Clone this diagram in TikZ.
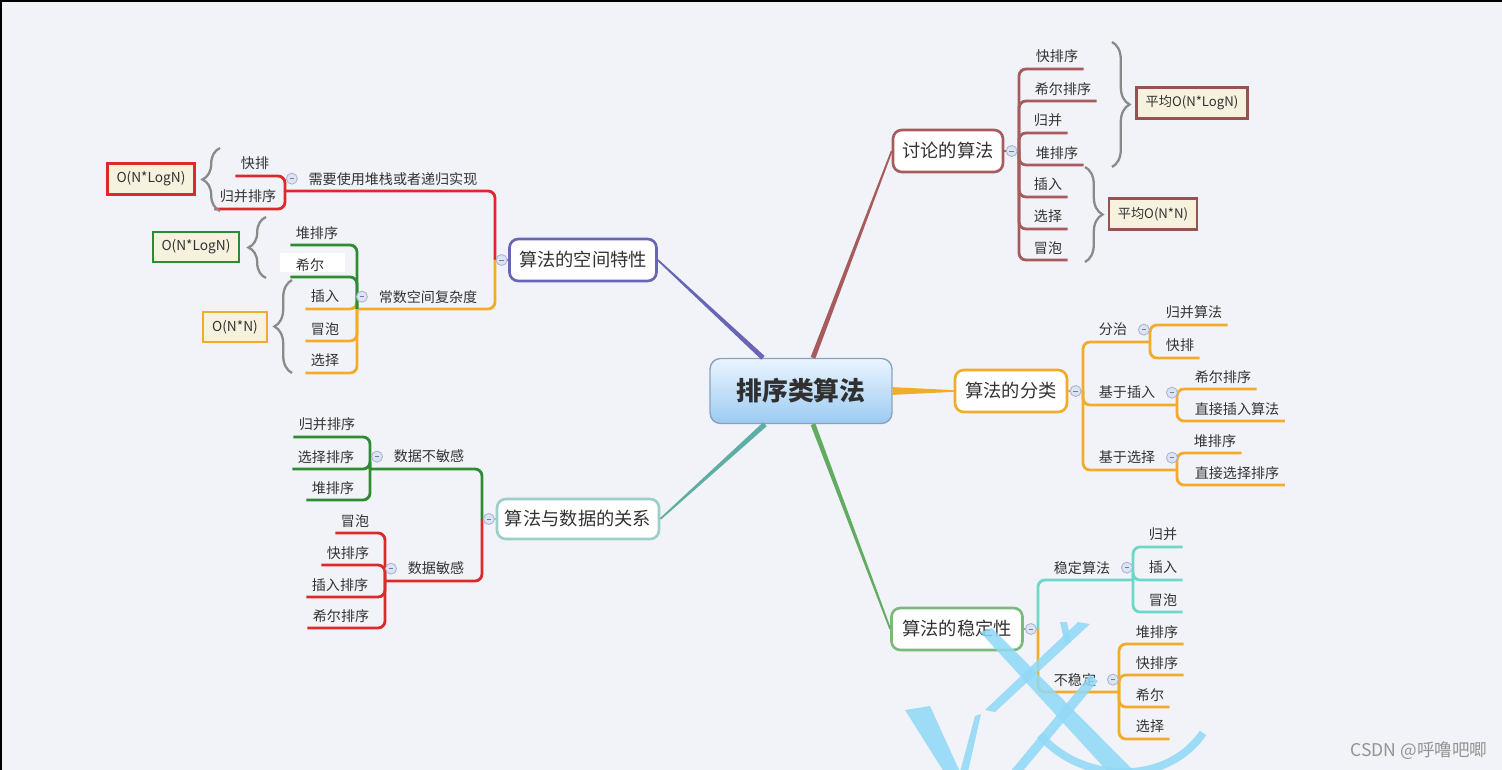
\documentclass[tikz,border=0pt]{standalone}
\usepackage{fontspec}
\setmainfont{Noto Sans CJK SC}
\usepackage{xcolor}
\usetikzlibrary{positioning,calc,decorations.pathreplacing}

\definecolor{bgcol}{HTML}{F2F3F8}
\definecolor{txt}{HTML}{333333}
\definecolor{purpl}{HTML}{6666B4}
\definecolor{rose}{HTML}{A65C5C}
\definecolor{orng}{HTML}{F2AC2C}
\definecolor{tealc}{HTML}{5EAEA6}
\definecolor{tealbox}{HTML}{9CCFCA}
\definecolor{aqua}{HTML}{6ED8C8}
\definecolor{grn}{HTML}{62AC62}
\definecolor{grnbox}{HTML}{7DB87D}
\definecolor{dgreen}{HTML}{2E8B34}
\definecolor{redl}{HTML}{DC2A2C}
\definecolor{beige}{HTML}{F6F2DD}
\definecolor{bracegray}{HTML}{8A8A8A}
\definecolor{foldfill}{HTML}{DCE3F3}
\definecolor{folddraw}{HTML}{A9B5D3}
\definecolor{rootTop}{HTML}{EAF5FF}
\definecolor{rootBot}{HTML}{9CCAF2}
\definecolor{rootEdge}{HTML}{8AA3BD}
\definecolor{wcol}{HTML}{8FD9F6}

\tikzset{
  root/.style={draw=rootEdge, top color=rootTop, bottom color=rootBot, rounded corners=6pt,
    line width=0.8pt, minimum width=3.64cm, minimum height=1.3cm,
    font=\fontsize{14.7}{17}\selectfont\bfseries, text=txt!95!black},
  topic/.style={draw, fill=white, rounded corners=5pt, line width=1.5pt, minimum height=0.84cm,
    font=\fontsize{10.4}{12}\selectfont},
  leaf/.style={anchor=south, minimum height=0.48cm, inner xsep=3pt, inner ysep=0pt,
    font=\fontsize{8}{9.6}\selectfont},
  cost/.style={draw, fill=beige, line width=1.5pt, minimum height=0.62cm, inner xsep=2pt,
    font=\fontsize{7.8}{9}\selectfont},
  fold/.style={circle, draw=folddraw, fill=foldfill, line width=0.5pt, minimum size=0.22cm, inner sep=0pt,
    path picture={\draw[folddraw!70!black, line width=0.5pt]
      ([xshift=-1.3pt]path picture bounding box.center) -- ([xshift=1.3pt]path picture bounding box.center);}},
  limb/.style={line width=1.6pt, rounded corners=4pt},
  brc/.style={decorate, decoration={brace, amplitude=10pt}, draw=bracegray, line width=1.3pt},
}

% tapered branch: thick at #1, thin at #2
\newcommand\taperline[4]{%
  \fill[#3] ($(#1)!#4!90:(#2)$) -- ($(#2)!0.5pt!-90:(#1)$)
    -- ($(#2)!0.5pt!90:(#1)$) -- ($(#1)!#4!-90:(#2)$) -- cycle;}

\begin{document}
\begin{tikzpicture}[x=0.02cm, y=-0.02cm, every node/.style={text=txt}]
\useasboundingbox (0,0) rectangle (1502,770);
\fill[bgcol] (0,0) rectangle (1502,770);
\draw[black, line width=1.1pt] (0,1) -- (1502,1) (1,0) -- (1,770);

% root and main topics
\node[root] (root) at (801,391) {排序类算法};
\node[topic, draw=purpl, minimum width=2.94cm] (space) at (583,260) {算法的空间特性};
\node[topic, draw=rose, minimum width=2.2cm] (talk) at (948,151) {讨论的算法};
\node[topic, draw=orng, minimum width=2.24cm] (kind) at (1011,391) {算法的分类};
\node[topic, draw=tealbox, minimum width=3.24cm, minimum height=0.8cm] (data) at (578,519) {算法与数据的关系};
\node[topic, draw=grnbox, minimum width=2.62cm] (stab) at (957,629) {算法的稳定性};

\coordinate (rP) at ($(root.north)+(-38,0)$);
\coordinate (rR) at ($(root.north)+(12,0)$);
\coordinate (rT) at ($(root.south)+(-36,0)$);
\coordinate (rG) at ($(root.south)+(12,0)$);
\taperline{rP}{space.east}{purpl}{1.4pt}
\taperline{rR}{talk.west}{rose}{1.4pt}
\taperline{root.east}{kind.west}{orng}{2.2pt}
\taperline{rT}{data.east}{tealc}{1.5pt}
\taperline{rG}{stab.west}{grn}{1.4pt}

% junctions
\coordinate (jSpace) at (495,260);
\coordinate (jTalk) at (1019,151);
\coordinate (jKind) at (1083,391);
\coordinate (jData) at (482,519);
\coordinate (jStab) at (1038,629);
\coordinate (jStack) at (285,191);
\coordinate (jConst) at (357,309);
\coordinate (jCalm) at (370,469);
\coordinate (jTouch) at (385,581);
\coordinate (jSplit) at (1150,342);
\coordinate (jIns) at (1177,405);
\coordinate (jSel) at (1177,470);
\coordinate (jStable) at (1133,580);
\coordinate (jShaky) at (1119,692);

\draw[limb, purpl] (space.west) -- (jSpace);
\draw[limb, rose] (talk.east) -- (jTalk);
\draw[limb, orng] (kind.east) -- (jKind);
\draw[limb, tealbox] (data.west) -- (jData);
\draw[limb, grnbox] (stab.east) -- (jStab);

% space: stack / constant
\draw[limb, redl] (jSpace) |- (jStack);
\draw[limb, orng] (jSpace) |- (jConst);
\node[leaf] (stack) at (393,191) {需要使用堆栈或者递归实现};
\node[leaf] (const) at (428,309) {常数空间复杂度};
\foreach \n/\x/\y/\t in {sk1/255/176/快排, sk2/248/209/归并排序} {
  \node[leaf] (\n) at (\x,\y) {\t};
  \draw[limb, redl] (jStack) |- (\n.south west);
}
\foreach \n/\x/\y/\t in {cs3/325/309/插入, cs4/325/341/冒泡, cs5/325/373/选择} {
  \node[leaf] (\n) at (\x,\y) {\t};
  \draw[limb, orng] (jConst) |- (\n.south west);
}
\fill[white] (280,253) rectangle (345,272);
\foreach \n/\x/\y/\t in {cs1/317/245/堆排序, cs2/310/277/希尔} {
  \node[leaf] (\n) at (\x,\y) {\t};
  \draw[limb, dgreen] (jConst) |- (\n.south west);
}

% data: calm / touchy
\draw[limb, dgreen] (jData) |- (jCalm);
\draw[limb, redl] (jData) |- (jTouch);
\node[leaf] (calm) at (429,469) {数据不敏感};
\node[leaf] (touch) at (436,581) {数据敏感};
\foreach \n/\x/\y/\t in {ca1/327/437/归并排序, ca2/326/469/选择排序, ca3/333/500/堆排序} {
  \node[leaf] (\n) at (\x,\y) {\t};
  \draw[limb, dgreen] (jCalm) |- (\n.south west);
}
\foreach \n/\x/\y/\t in {to1/355/533/冒泡, to2/348/565/快排序, to3/340/597/插入排序, to4/341/628/希尔排序} {
  \node[leaf] (\n) at (\x,\y) {\t};
  \draw[limb, redl] (jTouch) |- (\n.south west);
}

% talk
\foreach \n/\x/\y/\t in {tk1/1057/69/快排序, tk2/1063/101/希尔排序, tk3/1048/133/归并, tk4/1057/165/堆排序,
    tk5/1048/197/插入, tk6/1048/229/选择, tk7/1048/260/冒泡} {
  \node[leaf] (\n) at (\x,\y) {\t};
  \draw[limb, rose] (jTalk) |- (\n.south east);
}

% kind
\draw[limb, orng] (jKind) |- (jSplit);
\draw[limb, orng] (jKind) |- (jIns);
\draw[limb, orng] (jKind) |- (jSel);
\node[leaf] (split) at (1113,342) {分治};
\node[leaf] (ins) at (1127,405) {基于插入};
\node[leaf] (sel) at (1127,470) {基于选择};
\foreach \j/\n/\x/\y/\t in {jSplit/sp1/1194/325/归并算法, jSplit/sp2/1180/358/快排,
    jIns/in1/1223/389/希尔排序, jIns/in2/1237/421/直接插入算法,
    jSel/se1/1215/453/堆排序, jSel/se2/1237/485/直接选择排序} {
  \node[leaf] (\n) at (\x,\y) {\t};
  \draw[limb, orng] (\j) |- (\n.south east);
}

% stability
\draw[limb, aqua] (jStab) |- (jStable);
\draw[limb, orng] (jStab) |- (jShaky);
\node[leaf] (stable) at (1082,580) {稳定算法};
\node[leaf] (shaky) at (1075,692) {不稳定};
\foreach \n/\x/\y/\t in {st1/1163/547/归并, st2/1163/580/插入, st3/1163/612/冒泡} {
  \node[leaf] (\n) at (\x,\y) {\t};
  \draw[limb, aqua] (jStable) |- (\n.south east);
}
\foreach \n/\x/\y/\t in {sh1/1157/644/堆排序, sh2/1157/675/快排序, sh3/1150/707/希尔, sh4/1150/739/选择} {
  \node[leaf] (\n) at (\x,\y) {\t};
  \draw[limb, orng] (jShaky) |- (\n.south east);
}

% fold marks
\node[fold] (fSpace) at ($(space.west)!0.5!(jSpace)$) {};
\node[fold] (fTalk) at ($(talk.east)!0.5!(jTalk)$) {};
\node[fold] (fKind) at ($(kind.east)!0.5!(jKind)$) {};
\node[fold] (fData) at ($(data.west)!0.5!(jData)$) {};
\node[fold] (fStab) at ($(stab.east)!0.5!(jStab)$) {};
\node[fold, left=3pt of stack] (fStack) {};
\node[fold, left=3pt of const] (fConst) {};
\node[fold, left=3pt of calm] (fCalm) {};
\node[fold, left=3pt of touch] (fTouch) {};
\node[fold, right=3pt of split] (fSplit) {};
\node[fold, right=3pt of ins] (fIns) {};
\node[fold, right=3pt of sel] (fSel) {};
\node[fold, right=3pt of stable] (fStable) {};
\node[fold, right=3pt of shaky] (fShaky) {};

% complexity notes with braces
\node[cost, draw=redl, minimum width=1.74cm] (cRed) at (151,179) {O(N*LogN)};
\node[cost, draw=dgreen, minimum width=1.72cm, minimum height=0.6cm] (cGreen) at (196,247) {O(N*LogN)};
\node[cost, draw=orng, minimum width=1.28cm, minimum height=0.6cm] (cOrange) at (235,327) {O(N*N)};
\node[cost, draw=rose!90!black, minimum width=2.22cm, font=\fontsize{7.5}{9}\selectfont] (cFast) at (1192,103) {平均O(N*LogN)};
\node[cost, draw=rose!90!black, minimum width=1.76cm, font=\fontsize{7.5}{9}\selectfont] (cSlow) at (1153,214) {平均O(N*N)};
\coordinate (bR1) at (220,211);  \coordinate (bR2) at (220,148);
\coordinate (bG1) at (266,278);  \coordinate (bG2) at (266,217);
\coordinate (bO1) at (292,373);  \coordinate (bO2) at (292,280);
\coordinate (bF1) at (1112,42);  \coordinate (bF2) at (1112,167);
\coordinate (bS1) at (1085,167); \coordinate (bS2) at (1085,262);
\draw[brc] (bR1) -- (bR2);
\draw[brc] (bG1) -- (bG2);
\draw[brc] (bO1) -- (bO2);
\draw[brc] (bF1) -- (bF2);
\draw[brc] (bS1) -- (bS2);

% watermark strokes
\begin{scope}[fill=wcol, draw=wcol, opacity=0.85]
  \clip (0,0) rectangle (1502,770);
  \fill (980,632) -- (992,628) -- (1135,772) -- (1108,772) -- cycle;
  \fill (1078,622) -- (1090,624) -- (995,712) -- (985,710) -- cycle;
  \fill (1060,622) -- (1067,622) -- (1071,642) -- (1065,645) -- cycle;
  \fill (1090,675) -- (1098,681) -- (1022,772) -- (1010,772) -- cycle;
  \fill (905,710) -- (930,706) -- (960,772) -- (944,772) -- cycle;
  \fill (975,716) -- (981,714) -- (968,772) -- (960,772) -- cycle;
  \draw[line width=4.5pt] (1040,735) .. controls (1080,782) and (1165,788) .. (1203,733);
\end{scope}

\node[text=gray!85, font=\fontsize{10}{12}\selectfont] (mark) at (1419,751) {CSDN @呼噜吧唧};
\end{tikzpicture}
\end{document}
